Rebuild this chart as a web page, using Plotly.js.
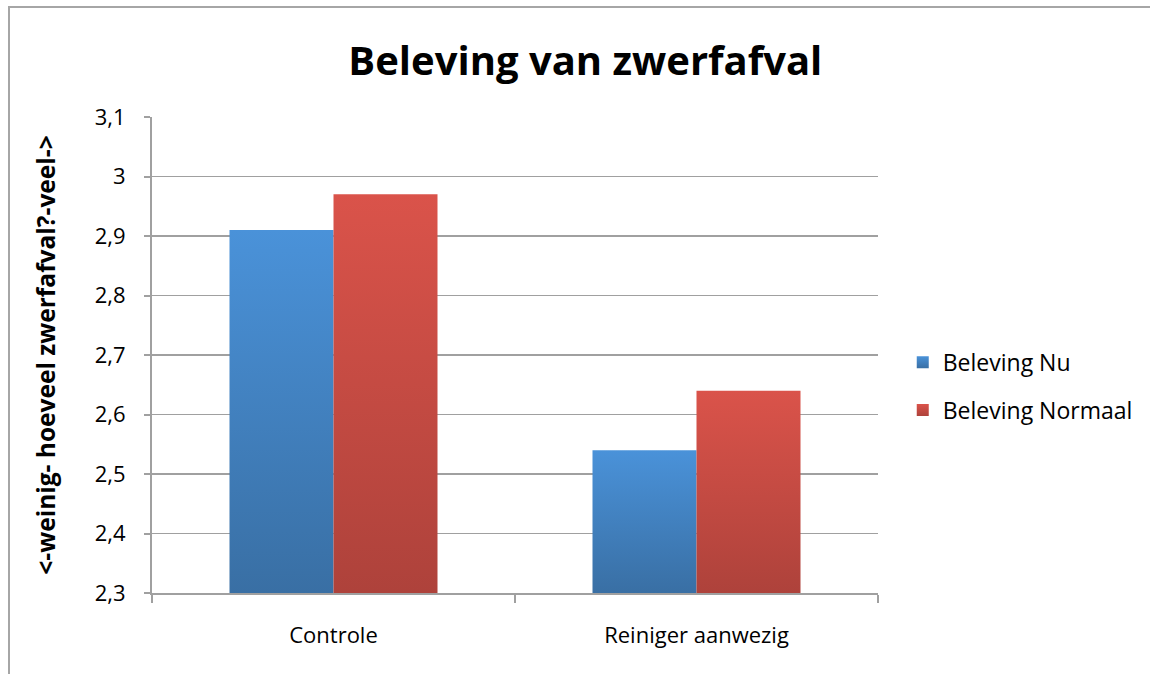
<!DOCTYPE html>
<html>
<head>
<meta charset="utf-8">
<script src="https://cdn.plot.ly/plotly-3.0.1.min.js"></script>
<style>
  html, body { margin: 0; padding: 0; background: #fff; }
  #frame { position: absolute; left: 8px; top: 6px; width: 1160px; height: 700px; border: 2px solid #a6a6a6; box-sizing: border-box; pointer-events: none; z-index: 5; }
  #chart { position: absolute; left: 0; top: 0; width: 1150px; height: 674px; }
</style>
</head>
<body>
<div id="chart"></div>
<div id="frame"></div>
<script>
const categories = ["Controle", "Reiniger aanwezig"];
const seriesNames = ["Beleving Nu", "Beleving Normaal"];
const belevingNu = [2.91, 2.54];
const belevingNormaal = [2.97, 2.64];
const yTicks = [2.3, 2.4, 2.5, 2.6, 2.7, 2.8, 2.9, 3.0, 3.1];
const yBase = 2.3;

const font = "'Open Sans', 'Liberation Sans', sans-serif";

const traces = [
  { type: "bar", name: seriesNames[0], x: categories, y: belevingNu.map(v => v - yBase), base: yBase,
    marker: { color: "#4282c2", line: { width: 0 } }, legendgroup: "a", hoverinfo: "none" },
  { type: "bar", name: seriesNames[1], x: categories, y: belevingNormaal.map(v => v - yBase), base: yBase,
    marker: { color: "#c84b44", line: { width: 0 } }, legendgroup: "b", hoverinfo: "none" }
];

const layout = {
  width: 1150, height: 674,
  margin: { l: 152, r: 272, t: 117, b: 81, pad: 0 },
  paper_bgcolor: "rgba(0,0,0,0)", plot_bgcolor: "#fff",
  separators: ",.",
  font: { family: font, size: 22, color: "#000" },
  title: { text: "<b>Beleving van zwerfafval</b>", font: { family: font, size: 40, color: "#000" },
           x: 0.509, xanchor: "center", y: 0.91, yanchor: "middle", xref: "container", yref: "container" },
  barmode: "group", bargap: 0.427, bargroupgap: 0,
  showlegend: true,
  legend: { x: 0.785, xref: "container", xanchor: "left", y: 0.427, yref: "container", yanchor: "middle",
            font: { family: font, size: 23, color: "#000" }, tracegroupgap: 15, itemwidth: 30,
            bgcolor: "rgba(0,0,0,0)" },
  xaxis: { type: "category", showline: true, linecolor: "#a0a0a0", linewidth: 2,
           ticks: "outside", tickson: "boundaries", ticklen: 8, tickcolor: "#a0a0a0", tickwidth: 2,
           ticklabelstandoff: 22, showgrid: false, zeroline: false, fixedrange: true,
           tickfont: { family: font, size: 22, color: "#000" } },
  yaxis: { range: [2.3, 3.1], tickvals: yTicks, showline: true, linecolor: "#a0a0a0", linewidth: 2,
           ticks: "outside", ticklen: 6, tickcolor: "#a0a0a0", tickwidth: 2, ticklabelstandoff: 14,
           showgrid: true, gridcolor: "#a0a0a0", gridwidth: 1.6, zeroline: false, fixedrange: true,
           tickfont: { family: font, size: 22, color: "#000" },
           title: { text: "<b><-weinig- hoeveel zwerfafval?-veel-></b>", font: { family: font, size: 24.5, color: "#000" }, standoff: 32 } }
};

function addGradients(gd) {
  const svg = gd.querySelector("svg.main-svg");
  const ns = "http://www.w3.org/2000/svg";
  let defs = svg.querySelector("defs");
  if (!defs) { defs = document.createElementNS(ns, "defs"); svg.insertBefore(defs, svg.firstChild); }
  const grads = [["gradBlue", "#4a92d9", "#396fa4"], ["gradRed", "#da534a", "#ae423b"]];
  grads.forEach(([id, top, bot]) => {
    const lg = document.createElementNS(ns, "linearGradient");
    lg.setAttribute("id", id); lg.setAttribute("x1", "0"); lg.setAttribute("y1", "0");
    lg.setAttribute("x2", "0"); lg.setAttribute("y2", "1");
    const s1 = document.createElementNS(ns, "stop"); s1.setAttribute("offset", "0"); s1.setAttribute("stop-color", top);
    const s2 = document.createElementNS(ns, "stop"); s2.setAttribute("offset", "1"); s2.setAttribute("stop-color", bot);
    lg.appendChild(s1); lg.appendChild(s2); defs.appendChild(lg);
  });
  gd.querySelectorAll(".barlayer .trace").forEach((t, i) => {
    t.querySelectorAll("path").forEach(p => { p.style.fill = "url(#" + grads[i][0] + ")"; });
  });
  gd.querySelectorAll(".legend .traces").forEach((t, i) => {
    t.querySelectorAll(".legendpoints path").forEach(p => { p.style.fill = "url(#" + grads[i][0] + ")"; });
  });
}

Plotly.newPlot("chart", traces, layout, { displayModeBar: false, staticPlot: true }).then(addGradients);
</script>
</body>
</html>
